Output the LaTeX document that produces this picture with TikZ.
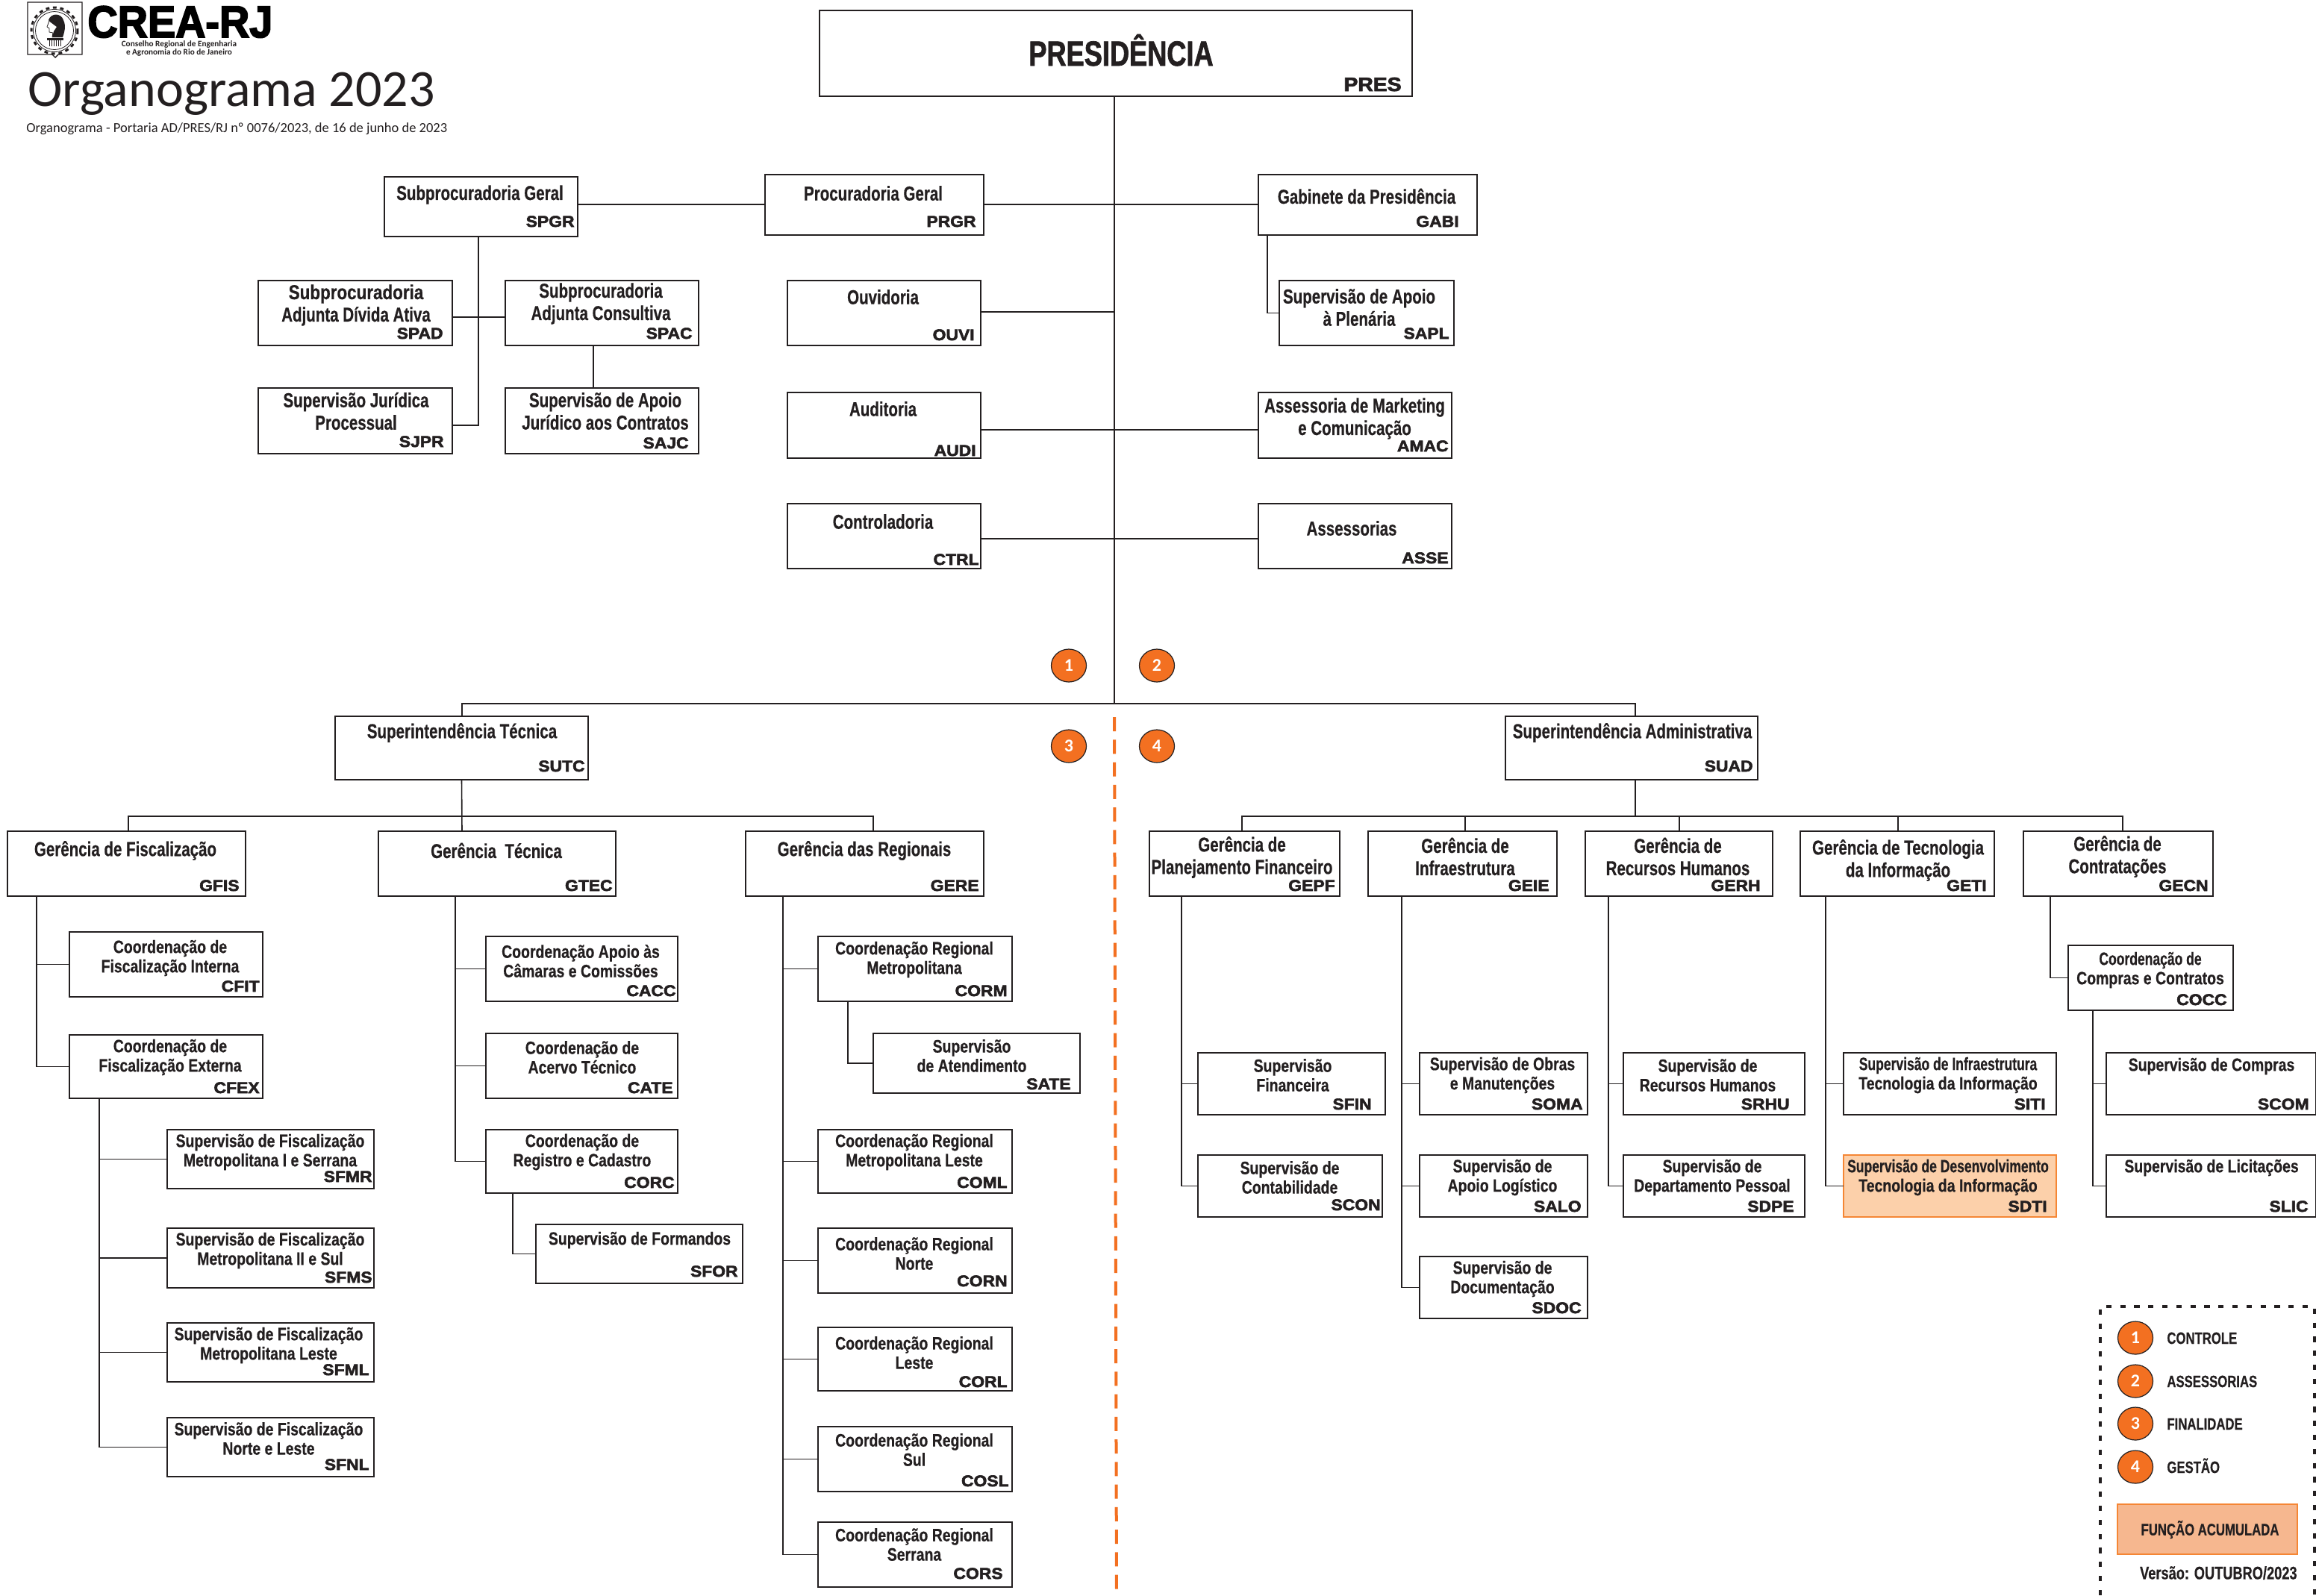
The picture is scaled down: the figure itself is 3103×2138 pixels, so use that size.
\documentclass[tikz,border=0pt]{standalone}
\usepackage{fontspec}
\setmainfont{Liberation Sans}
\newfontfamily\narrowfont[FakeStretch=0.76,FakeBold=0.5]{Liberation Sans}
\newfontfamily\smallnarrowfont[FakeStretch=0.81,FakeBold=0.5]{Liberation Sans}
\newfontfamily\tightfont[FakeStretch=0.73,FakeBold=0.5]{Liberation Sans}
\newfontfamily\widefont[FakeStretch=0.83,FakeBold=0.5]{Liberation Sans}
\newfontfamily\presfont[FakeStretch=0.77,FakeBold=1.5]{Liberation Sans}
\newfontfamily\codefont[FakeStretch=1.09,FakeBold=2.8]{Liberation Sans}
\newfontfamily\heavyfont[FakeStretch=0.93,FakeBold=3]{Liberation Sans}
\newfontfamily\titlefont{Carlito}
\newcommand{\tighter}{\tightfont\bfseries\fontsize{12}{13}\selectfont}
\newcommand{\wider}{\widefont\bfseries\fontsize{13.5}{15}\selectfont}
\usetikzlibrary{calc,shapes.geometric}
\definecolor{inkline}{HTML}{231F20}
\definecolor{crea}{HTML}{F37021}
\definecolor{accumfill}{HTML}{FCD0AA}
\definecolor{legendfill}{HTML}{F6B78F}
\definecolor{accumline}{HTML}{F58634}
\tikzset{
    orgbox/.style={draw=inkline, line width=0.8pt, rectangle, inner sep=0pt, outer sep=0pt},
    bigtext/.style={text=inkline, align=center, inner sep=0pt, font={\narrowfont\bfseries\fontsize{13.5}{15}\selectfont}},
    smalltext/.style={text=inkline, align=center, inner sep=0pt, font={\smallnarrowfont\bfseries\fontsize{12}{13}\selectfont}},
    codetext/.style={text=inkline, anchor=base east, inner sep=0pt, font={\codefont\bfseries\fontsize{10.5}{12}\selectfont}},
    link/.style={draw=inkline, line width=0.8pt},
    badge/.style={ellipse, draw=inkline, line width=0.6pt, fill=crea, text=white, minimum width=23.5pt, minimum height=22pt, inner sep=0pt, font={\titlefont\bfseries\fontsize{12}{12}\selectfont}},
    legendtext/.style={text=inkline, anchor=base west, inner sep=0pt, font={\narrowfont\bfseries\fontsize{11}{12}\selectfont}}
}
\begin{document}
\begin{tikzpicture}[x=0.5pt,y=-0.5pt]
    \useasboundingbox (0,0) rectangle (3103,2138);

    % logo and title
    \draw[inkline, line width=0.7pt] (37,3) -- (110,3) -- (110,73) -- (78,73) -- (74,77) -- (70,73) -- (37,73) -- cycle;
    \draw[inkline, line width=1.5pt, dash pattern=on 2.4pt off 2.4pt] (73,41) circle (31);
    \draw[inkline, line width=0.4pt] (73,41) circle (28.5);
    \draw[inkline, line width=0.4pt] (73,41) circle (25.5);
    \fill[inkline] (65,27) .. controls (68,17) and (82,17) .. (85,27) .. controls (89,35) and (86,44) .. (84,50) -- (70,50) -- (72,42) -- (76,36) -- (68,30) -- cycle;
    \draw[inkline, line width=0.4pt] (66,28) -- (63,36) -- (66,38) -- (66,43) -- (71,44) -- (70,50);
    \fill[inkline] (63,51) rectangle (85,54);
    \foreach \hx in {66,69,...,82} {
        \draw[inkline, line width=0.5pt] (\hx,54) -- (\hx,62);
    }
    \node[anchor=base west, inner sep=0pt, text depth=0pt, text=black, font={\heavyfont\bfseries\fontsize{30}{30}\selectfont}] (logotext) at (117,50) {CREA-RJ};
    \node[inner sep=0pt, align=center, text=inkline, font={\titlefont\bfseries\fontsize{5.6}{5.2}\selectfont}] (logosub) at (240,65) {Conselho Regional de Engenharia\\e Agronomia do Rio de Janeiro};
    \node[anchor=base west, inner sep=0pt, text=inkline, font={\titlefont\fontsize{35}{35}\selectfont}] (title) at (37,142) {Organograma 2023};
    \node[anchor=base west, inner sep=0pt, text=inkline, font={\titlefont\fontsize{9.25}{9}\selectfont}] (subtitle) at (35,177) {Organograma - Portaria AD/PRES/RJ nº 0076/2023, de 16 de junho de 2023};

    % accumulated function background
    \fill[accumfill] (2470,1548) rectangle (2755,1631);

    % boxes with the larger text
    \foreach \n/\xa/\ya/\xb/\yb/\tx/\ty/\cx/\cy/\txt in {
        SPGR/515/237/774/317/643/261/4/13/{Subprocuradoria Geral},
        PRGR/1025/234/1318/315/1170/259/10/11/{Procuradoria Geral},
        GABI/1686/234/1979/315/1831/263/24/11/{Gabinete da Presidência},
        SPAD/346/376/606/463/477/409/12/9/{\wider Subprocuradoria\\Adjunta Dívida Ativa},
        SPAC/677/376/936/463/805/407/8/9/{Subprocuradoria\\Adjunta Consultiva},
        OUVI/1055/376/1314/463/1183/398/8/7/{Ouvidoria},
        SAPL/1714/376/1948/463/1821/412/6/9/{Supervisão de Apoio\\à Plenária},
        SJPR/346/520/606/608/477/551/11/9/{Supervisão Jurídica\\Processual},
        SAJC/677/520/936/608/811/551/13/7/{Supervisão de Apoio\\Jurídico aos Contratos},
        AUDI/1055/526/1314/614/1183/548/6/3/{Auditoria},
        AMAC/1686/526/1945/614/1815/561/4/9/{Assessoria de Marketing\\e Comunicação},
        CTRL/1055/675/1314/762/1183/699/2/5/{Controladoria},
        ASSE/1686/675/1945/762/1811/708/4/7/{Assessorias},
        SUTC/449/960/788/1045/619/982/4/11/{Superintendência Técnica},
        SUAD/2017/960/2355/1045/2187/982/6/11/{Superintendência Administrativa},
        GFIS/10/1114/329/1201/168/1140/8/7/{Gerência de Fiscalização},
        GTEC/507/1114/825/1201/665/1140/4/7/{Gerência\ \ Técnica},
        GERE/999/1114/1318/1201/1158/1140/6/7/{Gerência das Regionais},
        GEPF/1540/1114/1795/1201/1664/1149/6/7/{Gerência de\\Planejamento Financeiro},
        GEIE/1833/1114/2086/1201/1963/1148/10/7/{Gerência de\\Infraestrutura},
        GERH/2124/1114/2375/1201/2248/1148/16/7/{Gerência de\\Recursos Humanos},
        GETI/2412/1114/2672/1201/2543/1153/10/7/{Gerência de Tecnologia\\da Informação},
        GECN/2711/1114/2965/1201/2837/1148/6/7/{Gerência de\\Contratações}} {
        \node[orgbox, minimum width={(\xb-\xa)*0.5pt}, minimum height={(\yb-\ya)*0.5pt}] (\n) at ({(\xa+\xb)/2},{(\ya+\yb)/2}) {};
        \node[bigtext] (\n-text) at (\tx,\ty) {\txt};
        \node[codetext] (\n-code) at ([xshift={-\cx*0.5pt},yshift={\cy*0.5pt}]\n.south east) {\n};
    }

    % boxes with the smaller text
    \foreach \n/\xa/\ya/\xb/\yb/\tx/\ty/\cx/\cy/\txt in {
        CFIT/93/1249/352/1336/228/1284/4/7/{Coordenação de\\Fiscalização Interna},
        CFEX/93/1387/352/1472/228/1417/4/7/{Coordenação de\\Fiscalização Externa},
        SFMR/224/1514/501/1593/362/1544/2/9/{Supervisão de Fiscalização\\Metropolitana I e Serrana},
        SFMS/224/1646/501/1726/362/1676/2/7/{Supervisão de Fiscalização\\Metropolitana II e Sul},
        SFML/224/1773/501/1852/360/1803/6/9/{Supervisão de Fiscalização\\Metropolitana Leste},
        SFNL/224/1900/501/1979/360/1928/6/9/{Supervisão de Fiscalização\\Norte e Leste},
        CACC/651/1255/908/1342/778/1288/2/7/{Coordenação Apoio às\\Câmaras e Comissões},
        CATE/651/1385/908/1472/780/1417/6/7/{Coordenação de\\Acervo Técnico},
        CORC/651/1514/908/1599/780/1544/4/7/{Coordenação de\\Registro e Cadastro},
        SFOR/718/1641/995/1720/857/1662/6/9/{Supervisão de Formandos},
        CORM/1096/1255/1356/1342/1225/1286/6/7/{Coordenação Regional\\Metropolitana},
        SATE/1170/1385/1447/1465/1302/1415/12/5/{Supervisão\\de Atendimento},
        COML/1096/1514/1356/1599/1225/1544/6/7/{Coordenação Regional\\Metropolitana Leste},
        CORN/1096/1646/1356/1733/1225/1680/6/9/{Coordenação Regional\\Norte},
        CORL/1096/1779/1356/1864/1225/1813/6/5/{Coordenação Regional\\Leste},
        COSL/1096/1912/1356/1999/1225/1943/4/7/{Coordenação Regional\\Sul},
        CORS/1096/2040/1356/2127/1225/2070/12/11/{Coordenação Regional\\Serrana},
        SFIN/1605/1411/1856/1494/1732/1441/18/7/{Supervisão\\Financeira},
        SCON/1605/1548/1852/1631/1728/1578/2/9/{Supervisão de\\Contabilidade},
        SOMA/1902/1411/2127/1494/2013/1441/6/7/{Supervisão de Obras\\e Manutenções},
        SALO/1902/1548/2127/1631/2013/1578/8/7/{Supervisão de\\Apoio Logístico},
        SDOC/1902/1684/2127/1767/2013/1714/8/7/{Supervisão de\\Documentação},
        SRHU/2175/1411/2418/1494/2288/1441/20/7/{Supervisão de\\Recursos Humanos},
        SDPE/2175/1548/2418/1631/2294/1578/14/7/{Supervisão de\\Departamento Pessoal},
        SITI/2470/1411/2755/1494/2610/1441/14/7/{\tighter Supervisão de Infraestrutura\\Tecnologia da Informação},
        SDTI/2470/1548/2755/1631/2610/1578/12/7/{\tighter Supervisão de Desenvolvimento\\Tecnologia da Informação},
        COCC/2771/1267/2992/1354/2881/1300/8/7/{\tighter Coordenação de\\Compras e Contratos},
        SCOM/2822/1411/3103/1494/2963/1429/9/7/{Supervisão de Compras},
        SLIC/2822/1548/3103/1631/2963/1565/10/7/{Supervisão de Licitações}} {
        \node[orgbox, minimum width={(\xb-\xa)*0.5pt}, minimum height={(\yb-\ya)*0.5pt}] (\n) at ({(\xa+\xb)/2},{(\ya+\yb)/2}) {};
        \node[smalltext] (\n-text) at (\tx,\ty) {\txt};
        \node[codetext] (\n-code) at ([xshift={-\cx*0.5pt},yshift={\cy*0.5pt}]\n.south east) {\n};
    }
    \draw[accumline, line width=0.8pt] (SDTI.south west) rectangle (SDTI.north east);

    % presidency
    \node[orgbox, minimum width=397pt, minimum height=57.5pt] (PRES) at (1495,71.5) {};
    \node[anchor=base, text=inkline, inner sep=0pt, font={\presfont\bfseries\fontsize{23.5}{25}\selectfont}] (PRES-text) at (1502,88) {PRESIDÊNCIA};
    \node[codetext, font={\codefont\bfseries\fontsize{13}{13}\selectfont}] (PRES-code) at ([xshift=-7pt,yshift=3.5pt]PRES.south east) {PRES};

    % main trunk
    \coordinate (trunktop) at (1493,129);
    \coordinate (trunkend) at (1493,943);
    \coordinate (barleft) at (619,943);
    \coordinate (barright) at (2191,943);
    \draw[link] (trunktop) -- (trunkend);
    \draw[link] (SUTC.north -| barleft) -- (barleft) -- (barright) -- (SUAD.north -| barright);

    % side connectors off the trunk
    \draw[link] (SPGR.east |- 0,274) -- (PRGR.west |- 0,274);
    \draw[link] (PRGR.east |- 0,274) -- (GABI.west |- 0,274);
    \draw[link] (OUVI.east |- 0,418) -- (trunktop |- 0,418);
    \draw[link] (AUDI.east |- 0,576) -- (AMAC.west |- 0,576);
    \draw[link] (CTRL.east |- 0,722) -- (ASSE.west |- 0,722);

    % staff below the general deputy attorney
    \draw[link] (641,0 |- SPGR.south) |- (SJPR.east |- 0,570);
    \draw[link] (SPAD.east |- 0,425) -- (SPAC.west |- 0,425);
    \draw[link] (795,0 |- SPAC.south) -- (795,0 |- SAJC.north);

    % bars below the superintendents
    \draw[link] (SUTC.south) -- (619,1114);
    \draw[link] (172,0 |- GFIS.north) |- (1170,1094) -- (1170,0 |- GERE.north);
    \draw[link] (SUAD.south -| 2191,0) -- (2191,1094);
    \draw[link] (1664,0 |- GEPF.north) |- (2844,1094) -- (2844,0 |- GECN.north);
    \foreach \top/\xbus in {GEIE/1963, GERH/2250, GETI/2543} {
        \draw[link] (\xbus,1094) -- (\xbus,0 |- \top.north);
    }

    % branches that leave a box on a vertical bus
    \foreach \from/\xbus/\to in {
        GABI/1698/SAPL,
        GFIS/49/CFIT, GFIS/49/CFEX,
        CFEX/133/SFMR, CFEX/133/SFMS, CFEX/133/SFML, CFEX/133/SFNL,
        GTEC/610/CACC, GTEC/610/CATE, GTEC/610/CORC,
        CORC/687/SFOR,
        GERE/1049/CORM, GERE/1049/COML, GERE/1049/CORN, GERE/1049/CORL, GERE/1049/COSL, GERE/1049/CORS,
        CORM/1136/SATE,
        GEPF/1583/SFIN, GEPF/1583/SCON,
        GEIE/1878/SOMA, GEIE/1878/SALO, GEIE/1878/SDOC,
        GERH/2155/SRHU, GERH/2155/SDPE,
        GETI/2446/SITI, GETI/2446/SDTI,
        GECN/2747/COCC,
        COCC/2804/SCOM, COCC/2804/SLIC} {
        \draw[link] (\xbus,0 |- \from.south) |- (\to.west);
    }

    % badges and the dashed divider
    \node[badge] (badge1) at (1432,892) {1};
    \node[badge] (badge2) at (1550,892) {2};
    \node[badge] (badge3) at (1432,1000) {3};
    \node[badge] (badge4) at (1550,1000) {4};
    \coordinate (divtop) at (1493,961);
    \coordinate (divend) at (1496,2138);
    \draw[crea, line width=2pt, dash pattern=on 9.6pt off 5.525pt] (divtop) -- (divend);

    % legend
    \draw[inkline, line width=2pt, dash pattern=on 3.6pt off 5.8pt] (2814,2138) -- (2814,1751) -- (3101,1751) -- (3101,2138);
    \foreach \i/\y/\ty/\txt in {1/1793/1801/CONTROLE, 2/1851/1859/ASSESSORIAS, 3/1908/1916/FINALIDADE, 4/1966/1974/GESTÃO} {
        \node[badge] (legend\i) at (2861,\y) {\i};
        \node[legendtext] (legend\i-text) at (2903,\ty) {\txt};
    }
    \node[draw=accumline, line width=0.8pt, fill=legendfill, minimum width=120.5pt, minimum height=33.5pt, inner sep=0pt] (legendbox) at (2957.5,2049.5) {};
    \node[legendtext, anchor=center] (legendbox-text) at (2961,2050) {FUNÇÃO ACUMULADA};
    \node[legendtext, anchor=east, font={\narrowfont\bfseries\fontsize{12}{12}\selectfont}] (version) at (3078,2108) {Versão: OUTUBRO/2023};
\end{tikzpicture}
\end{document}
